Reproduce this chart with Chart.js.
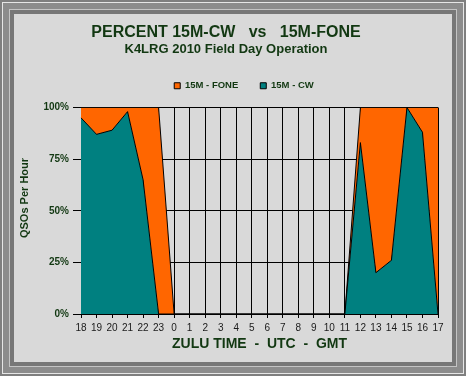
<!DOCTYPE html>
<html>
<head>
<meta charset="utf-8">
<script src="https://cdn.jsdelivr.net/npm/chart.js@4.4.1/dist/chart.umd.min.js"></script>
<style>
  html, body { margin: 0; padding: 0; background: #d9d9d9; }
  #frame {
    position: relative;
    width: 466px;
    height: 376px;
    box-sizing: border-box;
    background: #d9d9d9;
    box-shadow: inset 0 0 0 2px #7f7f7f, inset 0 0 0 3px #e6e6e6, inset 0 0 0 9px #8c8c8c,
                inset 0 0 0 10px #c4c4c4, inset 0 0 0 14px #777777;
  }
  #wrap { position: absolute; left: 14px; top: 14px; width: 438px; height: 348px; }
</style>
</head>
<body>
<div id="frame">
  <div id="wrap"><canvas id="pct-chart" width="438" height="348"></canvas></div>
</div>
<script>
// hours of the contest (zulu)
const hours = ['18', '19', '20', '21', '22', '23', '0', '1', '2', '3', '4', '5', '6', '7', '8', '9', '10', '11', '12', '13', '14', '15', '16', '17'];
// percent of QSOs per hour on each mode
const cwPct = [95, 87, 89, 98, 65, 0, 0, 0, 0, 0, 0, 0, 0, 0, 0, 0, 0, 0, 83, 20, 26, 100, 88, 0];
const fonePct = [5, 13, 11, 2, 35, 100, 0, 0, 0, 0, 0, 0, 0, 0, 0, 0, 0, 0, 17, 80, 74, 0, 12, 100];
const yTicks = [0, 25, 50, 75, 100];

const textColor = '#123812';

// Excel puts the y title a bit above the middle, so draw it by hand
const yTitlePlugin = {
  id: 'yTitle',
  afterDraw(chart) {
    const ctx = chart.ctx;
    ctx.save();
    ctx.translate(11, 184);
    ctx.rotate(-Math.PI / 2);
    ctx.font = 'bold 11px "Liberation Sans", Arial, sans-serif';
    ctx.fillStyle = textColor;
    ctx.textAlign = 'center';
    ctx.textBaseline = 'middle';
    ctx.fillText('QSOs Per Hour', 0, 0);
    ctx.restore();
  }
};

// legend sits a little right of centre, with a gap under it
const legendNudge = {
  id: 'legendNudge',
  afterInit(chart) {
    const lg = chart.legend;
    const fit = lg.fit;
    lg.fit = function () {
      fit.call(this);
      this.height += 7;
    };
  },
  afterLayout(chart) {
    chart.legend.left += 18;
    chart.legend.right += 18;
  }
};

const ctx = document.getElementById('pct-chart').getContext('2d');
new Chart(ctx, {
  type: 'line',
  data: {
    labels: hours,
    datasets: [
      {
        label: '15M - CW',
        data: cwPct,
        backgroundColor: '#008080',
        borderColor: '#000000',
        borderWidth: 1,
        fill: 'origin',
        pointRadius: 0,
        tension: 0,
      },
      {
        label: '15M - FONE',
        data: fonePct,
        backgroundColor: '#ff6600',
        borderColor: '#000000',
        borderWidth: 1,
        fill: '-1',
        pointRadius: 0,
        tension: 0,
      },
    ],
  },
  options: {
    responsive: false,
    animation: false,
    layout: { padding: { left: 0, right: 14, top: 0, bottom: 0 } },
    plugins: {
      title: {
        display: true,
        text: 'PERCENT 15M-CW   vs   15M-FONE',
        color: textColor,
        font: { family: '"Liberation Sans", Arial, sans-serif', size: 16, weight: 'bold', lineHeight: 1 },
        padding: { top: 11, bottom: 2 },
      },
      subtitle: {
        display: true,
        text: 'K4LRG 2010 Field Day Operation',
        color: textColor,
        font: { family: '"Liberation Sans", Arial, sans-serif', size: 13, weight: 'bold', lineHeight: 1 },
        padding: { top: 0, bottom: 3 },
      },
      legend: {
        reverse: true,
        labels: {
          boxWidth: 6,
          boxHeight: 6,
          padding: 22,
          color: textColor,
          font: { family: '"Liberation Sans", Arial, sans-serif', size: 9.5, weight: 'bold' },
        },
      },
      tooltip: { enabled: false },
    },
    scales: {
      x: {
        offset: false,
        grid: { color: '#000000', tickLength: 4 },
        border: { color: '#000000' },
        ticks: {
          color: '#1a1a1a',
          maxRotation: 0,
          autoSkip: false,
          padding: 4,
          font: { family: '"Liberation Sans", Arial, sans-serif', size: 10 },
        },
        title: {
          display: true,
          text: 'ZULU TIME  -  UTC  -  GMT',
          color: textColor,
          font: { family: '"Liberation Sans", Arial, sans-serif', size: 14, weight: 'bold' },
          padding: { top: 0, bottom: 9 },
        },
        afterFit(scale) { scale.height = 48; },
      },
      y: {
        stacked: true,
        min: 0,
        max: 100,
        afterBuildTicks(scale) { scale.ticks = yTicks.map(v => ({ value: v })); },
        grid: { color: '#000000', tickLength: 8 },
        border: { color: '#000000' },
        ticks: {
          color: textColor,
          padding: 4,
          font: { family: '"Liberation Sans", Arial, sans-serif', size: 10, weight: 'bold' },
          callback: v => v + '%',
        },
        afterFit(scale) { scale.width = 67; },
      },
    },
  },
  plugins: [yTitlePlugin, legendNudge],
});
</script>
</body>
</html>
